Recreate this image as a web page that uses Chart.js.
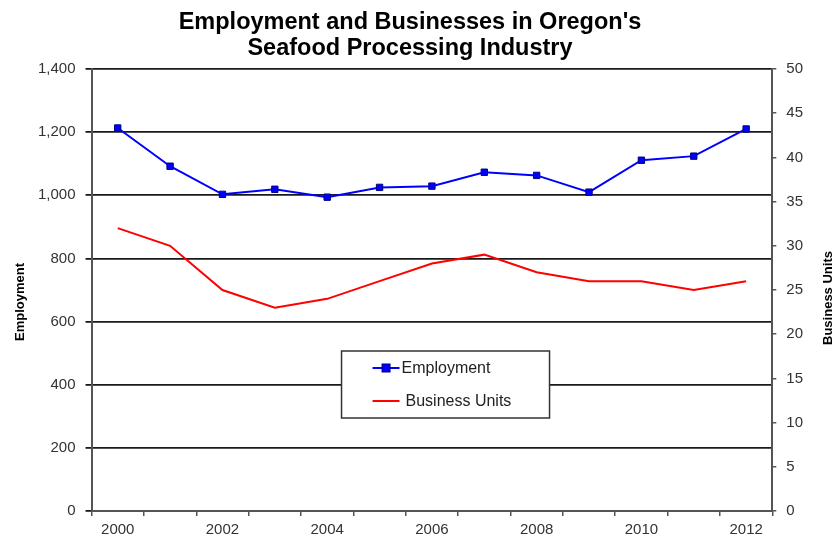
<!DOCTYPE html>
<html lang="en">
<head>
<meta charset="UTF-8">
<title>Employment and Businesses in Oregon's Seafood Processing Industry</title>
<script src="https://cdn.jsdelivr.net/npm/chart.js@4.4.0/dist/chart.umd.min.js"></script>
<style>
  html, body { margin: 0; padding: 0; background: #fff; }
</style>
</head>
<body>
<canvas id="myChart" width="840" height="540"></canvas>
<script>
// data
const years = ['2000', '2001', '2002', '2003', '2004', '2005', '2006', '2007', '2008', '2009', '2010', '2011', '2012'];
const employment = [1213, 1092, 1003, 1019, 994, 1025, 1029, 1073, 1063, 1010, 1111, 1124, 1210];
const businessUnits = [32, 30, 25, 23, 24, 26, 28, 29, 27, 26, 26, 25, 26];
const employmentMax = 1400;
const employmentStep = 200;
const unitsMax = 50;
const unitsStep = 5;
const titleLines = ["Employment and Businesses in Oregon's", 'Seafood Processing Industry'];

const FONT = "'Liberation Sans', Arial, sans-serif";

// title, axis titles and the legend box inside the plot
const extras = {
  id: 'extras',
  afterDatasetsDraw(chart) {
    const ctx = chart.ctx;
    const a = chart.chartArea;
    ctx.save();

    // title
    ctx.fillStyle = '#000';
    ctx.textAlign = 'center';
    ctx.textBaseline = 'alphabetic';
    ctx.font = 'bold 23.5px ' + FONT;
    ctx.fillText(titleLines[0], 410, 29);
    ctx.fillText(titleLines[1], 410, 55);

    // legend
    const bx = a.left + 250, by = a.top + 282, bw = 208, bh = 67;
    ctx.fillStyle = '#fff';
    ctx.fillRect(bx, by, bw, bh);
    ctx.strokeStyle = '#333';
    ctx.lineWidth = 1.5;
    ctx.strokeRect(bx, by, bw, bh);
    ctx.font = '16px ' + FONT;
    ctx.textBaseline = 'middle';
    ctx.textAlign = 'left';
    const rows = [
      { label: chart.data.datasets[0].label, color: '#0000ff', marker: true, y: by + 17, tx: bx + 60 },
      { label: chart.data.datasets[1].label, color: '#ff0000', marker: false, y: by + 50, tx: bx + 64 }
    ];
    rows.forEach(r => {
      ctx.strokeStyle = r.color;
      ctx.lineWidth = 2;
      ctx.beginPath();
      ctx.moveTo(bx + 31, r.y);
      ctx.lineTo(bx + 58, r.y);
      ctx.stroke();
      if (r.marker) {
        ctx.fillStyle = '#0000ff';
        ctx.fillRect(bx + 40.5, r.y - 4, 8, 8);
        ctx.strokeStyle = '#000080';
        ctx.lineWidth = 1;
        ctx.strokeRect(bx + 40.5, r.y - 4, 8, 8);
      }
      ctx.fillStyle = '#222';
      ctx.fillText(r.label, r.tx, r.y + 1);
    });

    // axis titles, both reading bottom-to-top
    ctx.font = 'bold 13px ' + FONT;
    ctx.fillStyle = '#000';
    ctx.textAlign = 'center';
    ctx.textBaseline = 'middle';
    ctx.save();
    ctx.translate(20, 302);
    ctx.rotate(-Math.PI / 2);
    ctx.fillText('Employment', 0, 0);
    ctx.restore();
    ctx.translate(828, 298);
    ctx.rotate(-Math.PI / 2);
    ctx.fillText('Business Units', 0, 0);
    ctx.restore();
  }
};

const ctx = document.getElementById('myChart').getContext('2d');
const myChart = new Chart(ctx, {
  type: 'line',
  data: {
    labels: years,
    datasets: [{
      label: 'Employment',
      data: employment,
      yAxisID: 'y',
      borderColor: '#0000ff',
      backgroundColor: '#0000ff',
      borderWidth: 2,
      pointStyle: 'rect',
      pointRadius: 4.5,
      pointBackgroundColor: '#0000ff',
      pointBorderColor: '#000080',
      pointBorderWidth: 1,
      tension: 0
    }, {
      label: 'Business Units',
      data: businessUnits,
      yAxisID: 'y1',
      borderColor: '#ff0000',
      backgroundColor: '#ff0000',
      borderWidth: 2,
      pointRadius: 0,
      tension: 0
    }]
  },
  options: {
    responsive: false,
    animation: false,
    layout: { padding: { top: 69, right: 27, left: 28, bottom: -3 } },
    plugins: {
      legend: { display: false },
      tooltip: { enabled: false },
      title: { display: false }
    },
    scales: {
      x: {
        offset: true,
        grid: { offset: true, drawOnChartArea: false, drawTicks: true, tickLength: 5, color: '#555', lineWidth: 1.5 },
        border: { color: '#555', width: 2 },
        ticks: {
          autoSkip: false,
          maxRotation: 0,
          color: '#333',
          font: { family: FONT, size: 15, lineHeight: 1 },
          padding: 6,
          callback: function(v, i) { return i % 2 === 0 ? this.getLabelForValue(v) : ''; }
        }
      },
      y: {
        position: 'left',
        min: 0,
        max: employmentMax,
        ticks: {
          stepSize: employmentStep,
          color: '#333',
          font: { family: FONT, size: 15 },
          padding: 10,
          callback: v => v.toLocaleString('en-US')
        },
        grid: { color: '#1a1a1a', lineWidth: 1.8, tickLength: 6 },
        border: { color: '#555', width: 2 }
      },
      y1: {
        position: 'right',
        min: 0,
        max: unitsMax,
        ticks: {
          stepSize: unitsStep,
          color: '#333',
          font: { family: FONT, size: 15 },
          padding: 10
        },
        grid: { drawOnChartArea: false, color: '#555', lineWidth: 1.5, tickLength: 4 },
        border: { color: '#555', width: 2 }
      }
    }
  },
  plugins: [extras]
});
</script>
</body>
</html>
